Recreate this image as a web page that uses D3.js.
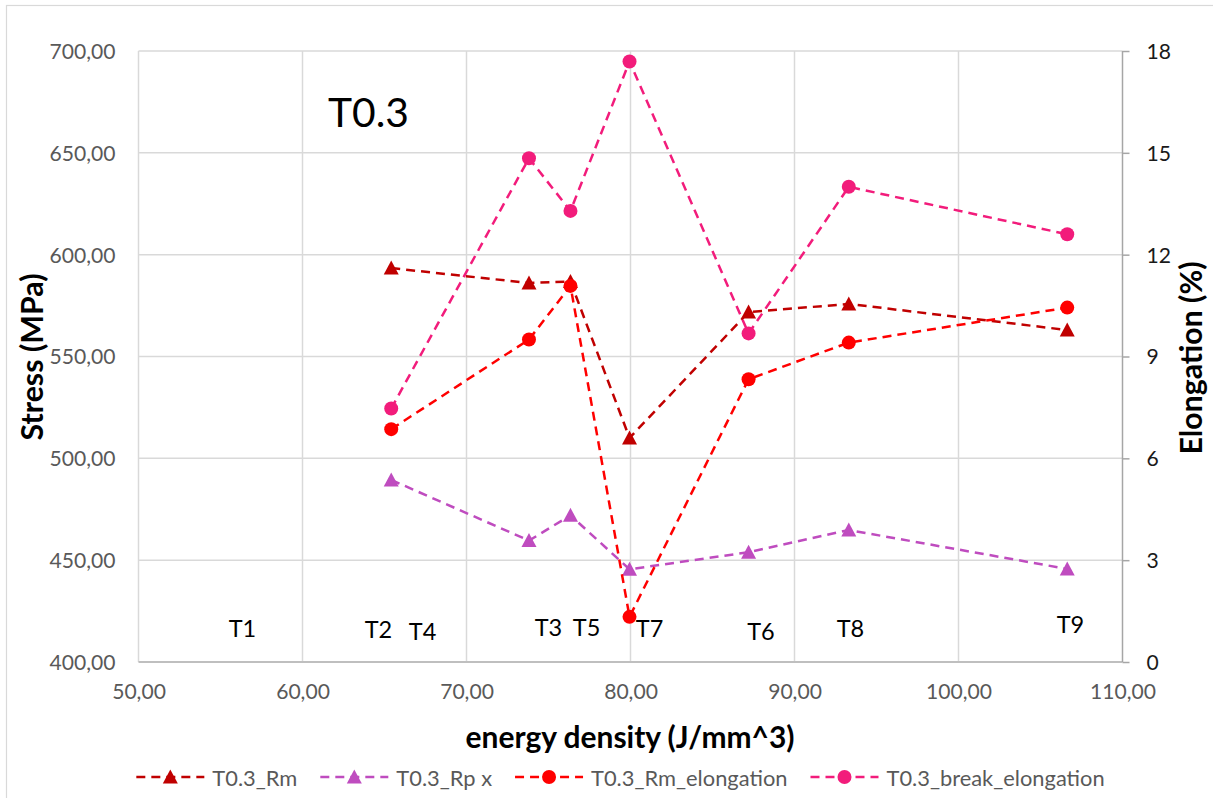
<!DOCTYPE html>
<html>
<head>
<meta charset="utf-8">
<script src="https://cdn.jsdelivr.net/npm/d3@7"></script>
<style>
  html, body { margin: 0; padding: 0; background: #ffffff; }
  svg { display: block; }
</style>
</head>
<body>
<svg id="chart" width="1213" height="798"></svg>
<script>
// Energy density of each build (J/mm^3)
const energy = [65.41, 73.81, 76.34, 79.94, 87.20, 93.31, 106.63];
// Tensile strength and yield strength (MPa), left axis
const rm = [593.4, 586.1, 586.8, 510.0, 571.8, 575.8, 563.0];
const rp = [489.4, 459.6, 472.0, 445.5, 453.9, 464.8, 445.7];
// Elongation at Rm and at break (%), right axis
const rmElongation = [6.86, 9.50, 11.08, 1.33, 8.33, 9.41, 10.44];
const breakElongation = [7.47, 14.84, 13.29, 17.69, 9.68, 14.00, 12.60];

// Sample annotations placed in data coordinates (energy, stress)
const sampleNames = ["T1", "T2", "T4", "T3", "T5", "T7", "T6", "T8", "T9"];
const sampleX = [56.34, 64.63, 67.32, 75.0, 77.32, 81.16, 87.95, 93.41, 106.83];
const sampleY = [416.7, 416.2, 415.2, 417.2, 417.2, 416.7, 415.2, 416.7, 418.7];

// Axis ticks
const xTicks = [50, 60, 70, 80, 90, 100, 110];
const yLeftTicks = [400, 450, 500, 550, 600, 650, 700];
const yRightTicks = [0, 3, 6, 9, 12, 15, 18];

const seriesNames = ["T0.3_Rm", "T0.3_Rp x", "T0.3_Rm_elongation", "T0.3_break_elongation"];

const FONT = "Lato, 'Open Sans', 'Liberation Sans', sans-serif";
const svg = d3.select("#chart");

// Outer chart frame
svg.append("rect")
  .attr("x", 6.5).attr("y", 5.5)
  .attr("width", 1240).attr("height", 820)
  .attr("fill", "none").attr("stroke", "#d9d9d9").attr("stroke-width", 1.2);

const plot = { left: 138.5, right: 1122.5, top: 51, bottom: 662 };
const x = d3.scaleLinear().domain([50, 110]).range([plot.left, plot.right]);
const yL = d3.scaleLinear().domain([400, 700]).range([plot.bottom, plot.top]);
const yR = d3.scaleLinear().domain([0, 18]).range([plot.bottom, plot.top]);

// Font size that makes a string reach a given width
function fitSize(str, weight, target) {
  const t = svg.append("text").attr("font-family", FONT).attr("font-weight", weight)
    .attr("font-size", 100).text(str);
  const w = t.node().getComputedTextLength();
  t.remove();
  return 100 * target / w;
}
const tickSize = fitSize("700,00", 400, 66);
const legendSize = fitSize("T0.3_Rm", 400, 85);
const sampleSize = fitSize("T3", 400, 27.5);
const titleSize = fitSize("T0.3", 400, 81);

const fmt = d => d3.format(".2f")(d).replace(".", ",");

// Gridlines
const grid = svg.append("g");
grid.selectAll("line.h").data(yLeftTicks.slice(1)).join("line")
  .attr("x1", plot.left).attr("x2", plot.right)
  .attr("y1", d => yL(d)).attr("y2", d => yL(d))
  .attr("stroke", "#d9d9d9").attr("stroke-width", 1.5);
grid.selectAll("line.v").data(xTicks.slice(0, -1)).join("line")
  .attr("y1", plot.top).attr("y2", plot.bottom)
  .attr("x1", d => x(d)).attr("x2", d => x(d))
  .attr("stroke", "#d9d9d9").attr("stroke-width", 1.5);

// Bottom axis line
svg.append("line")
  .attr("x1", plot.left).attr("x2", plot.right)
  .attr("y1", plot.bottom).attr("y2", plot.bottom)
  .attr("stroke", "#bfbfbf").attr("stroke-width", 1.8);

// Right (secondary) axis with outward ticks
const rightAxis = d3.axisRight(yR).tickValues(yRightTicks).tickSize(7).tickPadding(17)
  .tickFormat(d3.format("d"));
const ra = svg.append("g").attr("transform", `translate(${plot.right},0)`).call(rightAxis);
ra.select(".domain").attr("stroke", "#a6a6a6").attr("stroke-width", 1.5)
  .attr("d", `M0,${plot.top}V${plot.bottom}`);
ra.selectAll(".tick line").attr("stroke", "#a6a6a6").attr("stroke-width", 1.5);
ra.selectAll(".tick text").attr("font-family", FONT).attr("font-size", tickSize)
  .attr("fill", "#1a1a1a").attr("dy", "0.35em");

// Left axis labels
const la = svg.append("g").attr("transform", `translate(${plot.left},0)`)
  .call(d3.axisLeft(yL).tickValues(yLeftTicks).tickSize(0).tickPadding(23).tickFormat(fmt));
la.select(".domain").remove();
la.selectAll(".tick text").attr("font-family", FONT).attr("font-size", tickSize)
  .attr("fill", "#595959").attr("dy", "0.35em");

// Bottom axis labels
const ba = svg.append("g").attr("transform", `translate(0,${plot.bottom})`)
  .call(d3.axisBottom(x).tickValues(xTicks).tickSize(0).tickPadding(22).tickFormat(fmt));
ba.select(".domain").remove();
ba.selectAll(".tick text").attr("font-family", FONT).attr("font-size", tickSize)
  .attr("fill", "#595959");

// Axis titles
function axisTitle(str, target, cx, cy, rot) {
  const size = fitSize(str, 700, target);
  svg.append("text")
    .attr("transform", `translate(${cx},${cy}) rotate(${rot})`)
    .attr("text-anchor", "middle").attr("dominant-baseline", "central")
    .attr("font-family", FONT).attr("font-weight", 700).attr("font-size", size)
    .attr("fill", "#000").text(str);
}
axisTitle("Stress (MPa)", 167, 31, 357, -90);
axisTitle("Elongation (%)", 193, 1190, 358, -90);
axisTitle("energy density (J/mm^3)", 329, 630, 736, 0);

// Chart title
svg.append("text").attr("x", 368.5).attr("y", 111)
  .attr("text-anchor", "middle").attr("dominant-baseline", "central")
  .attr("font-family", FONT).attr("font-size", titleSize).attr("fill", "#000").text("T0.3");

// Series
const triPath = "M0,-7.5L7.5,6.5L-7.5,6.5Z";
const series = [
  { name: seriesNames[0], values: rm, y: yL, color: "#c00000", marker: "tri" },
  { name: seriesNames[1], values: rp, y: yL, color: "#bf4cbf", marker: "tri" },
  { name: seriesNames[2], values: rmElongation, y: yR, color: "#ff0000", marker: "circle" },
  { name: seriesNames[3], values: breakElongation, y: yR, color: "#f21c7b", marker: "circle" }
];
const DASH = "9,6";

function drawMarker(g, s, px, py) {
  if (s.marker === "tri") {
    g.append("path").attr("d", triPath).attr("transform", `translate(${px},${py})`)
      .attr("fill", s.color);
  } else {
    g.append("circle").attr("cx", px).attr("cy", py).attr("r", 7).attr("fill", s.color);
  }
}

series.forEach(s => {
  const g = svg.append("g");
  const line = d3.line().x((d, i) => x(energy[i])).y(d => s.y(d));
  g.append("path").datum(s.values).attr("d", line)
    .attr("fill", "none").attr("stroke", s.color).attr("stroke-width", 2.5)
    .attr("stroke-dasharray", DASH);
  s.values.forEach((v, i) => drawMarker(g, s, x(energy[i]), s.y(v)));
});

// Sample annotations
svg.append("g").selectAll("text").data(sampleNames).join("text")
  .attr("x", (d, i) => x(sampleX[i])).attr("y", (d, i) => yL(sampleY[i]))
  .attr("text-anchor", "middle").attr("dominant-baseline", "central")
  .attr("font-family", FONT).attr("font-size", sampleSize).attr("fill", "#000")
  .text(d => d);

// Legend (flow layout, centred)
const legend = svg.append("g");
const lineLen = 68, textGap = 8, itemGap = 23, legendY = 777;
const widths = series.map(s => {
  const t = svg.append("text").attr("font-family", FONT).attr("font-size", legendSize).text(s.name);
  const w = t.node().getComputedTextLength(); t.remove(); return w;
});
const total = d3.sum(widths) + series.length * (lineLen + textGap) + (series.length - 1) * itemGap;
let cursor = 620.5 - total / 2;
series.forEach((s, i) => {
  const g = legend.append("g");
  g.append("line").attr("x1", cursor).attr("x2", cursor + lineLen)
    .attr("y1", legendY).attr("y2", legendY)
    .attr("stroke", s.color).attr("stroke-width", 2.5).attr("stroke-dasharray", DASH);
  drawMarker(g, s, cursor + lineLen / 2, legendY);
  g.append("text").attr("x", cursor + lineLen + textGap).attr("y", legendY)
    .attr("dominant-baseline", "central")
    .attr("font-family", FONT).attr("font-size", legendSize).attr("fill", "#595959")
    .text(s.name);
  cursor += lineLen + textGap + widths[i] + itemGap;
});
</script>
</body>
</html>
